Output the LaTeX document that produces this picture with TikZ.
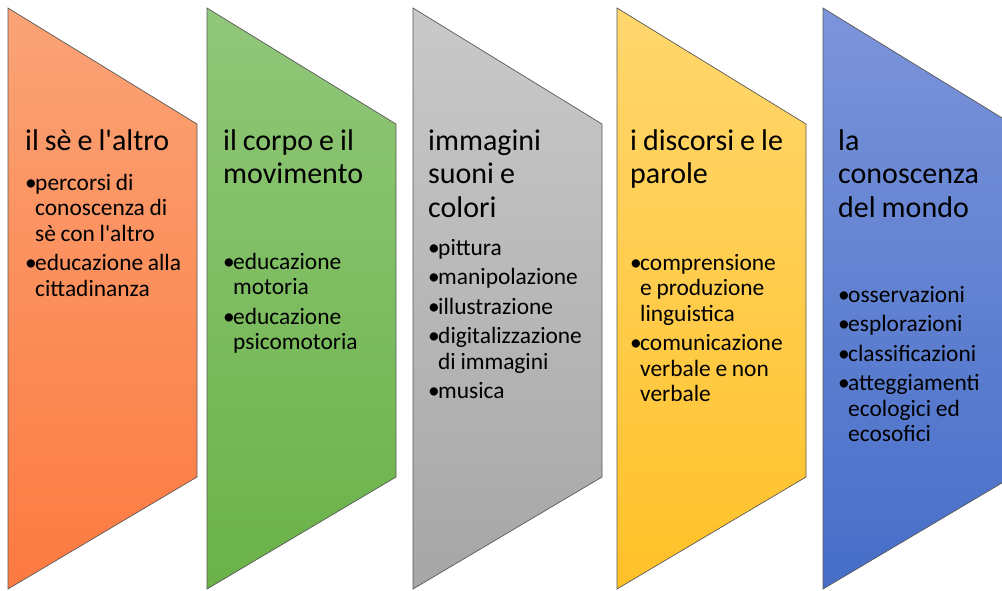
\documentclass[tikz,border=0pt]{standalone}
\usepackage{fontspec}
\setmainfont{Carlito}[Ligatures=TeXOff]
\usetikzlibrary{positioning}

\definecolor{orangeTop}{RGB}{250,163,118}
\definecolor{orangeBot}{RGB}{252,122,64}
\definecolor{greenTop}{RGB}{145,199,122}
\definecolor{greenBot}{RGB}{106,178,72}
\definecolor{greyTop}{RGB}{201,201,201}
\definecolor{greyBot}{RGB}{166,166,166}
\definecolor{goldTop}{RGB}{255,215,110}
\definecolor{goldBot}{RGB}{255,193,40}
\definecolor{blueTop}{RGB}{124,148,218}
\definecolor{blueBot}{RGB}{70,110,200}

% narrower word space, as in the slide
\newcommand{\tightsp}{\spaceskip=0.2em\relax\xspaceskip=0.2em\relax}
% one bullet with hanging indent
\newcommand{\itm}[1]{\hangindent=10pt\hangafter=1\noindent\makebox[10pt][l]{\textbullet}{\let\\\newline#1}\par}

\begin{document}
\begin{tikzpicture}[
        x=1pt, y=-1pt,
        tab/.style={draw=black!65, line width=0.7pt, line join=miter},
        title/.style={anchor=base west, inner sep=0pt, text width=185pt, align=left,
            font={\fontsize{30}{33.5}\selectfont}, execute at begin node={\tightsp}},
        items/.style={anchor=base west, inner sep=0pt, text width=185pt, align=left,
            font={\fontsize{23.4}{25.5}\selectfont},
            execute at begin node={\tightsp\setlength{\parskip}{4pt}}}
    ]
        \useasboundingbox (0,0) rectangle (1002,590);

        % Shapes
        \path[tab, top color=orangeTop, bottom color=orangeBot] (8,8) -- (197,124) -- (197,477) -- (8,589) -- cycle;
        \path[tab, top color=greenTop, bottom color=greenBot] (207,8) -- (396,124) -- (396,477) -- (207,589) -- cycle;
        \path[tab, top color=greyTop, bottom color=greyBot] (413,8) -- (602,124) -- (602,477) -- (413,589) -- cycle;
        \path[tab, top color=goldTop, bottom color=goldBot] (617,8) -- (806,124) -- (806,477) -- (617,589) -- cycle;
        \path[tab, top color=blueTop, bottom color=blueBot] (823,8) -- (1012,124) -- (1012,477) -- (823,589) -- cycle;

        % il se e l'altro
        \node[title] (sealtro) at (25,150) {il sè e l'altro};
        \node[items] (sealtroList) at (25,190) {\itm{percorsi di\\conoscenza di\\sè con l'altro}\itm{educazione alla\\cittadinanza}};

        % il corpo e il movimento
        \node[title] (corpo) at (223,150) {il corpo e il\\movimento};
        \node[items] (corpoList) at (223,269) {\itm{educazione\\motoria}\itm{educazione\\psicomotoria}};

        % immagini suoni e colori
        \node[title] (immagini) at (428,150) {immagini\\suoni e\\colori};
        \node[items] (immaginiList) at (428,255) {\itm{pittura}\itm{manipolazione}\itm{illustrazione}\itm{digitalizzazione\\di immagini}\itm{musica}};

        % i discorsi e le parole
        \node[title] (discorsi) at (630,150) {i discorsi e le\\parole};
        \node[items] (discorsiList) at (630,270) {\itm{comprensione\\e produzione\\linguistica}\itm{comunicazione\\verbale e non\\verbale}};

        % la conoscenza del mondo
        \node[title] (mondo) at (838,150) {la\\conoscenza\\del mondo};
        \node[items] (mondoList) at (838,302) {\itm{osservazioni}\itm{esplorazioni}\itm{classificazioni}\itm{atteggiamenti\\ecologici ed\\ecosofici}};
    \end{tikzpicture}
\end{document}
